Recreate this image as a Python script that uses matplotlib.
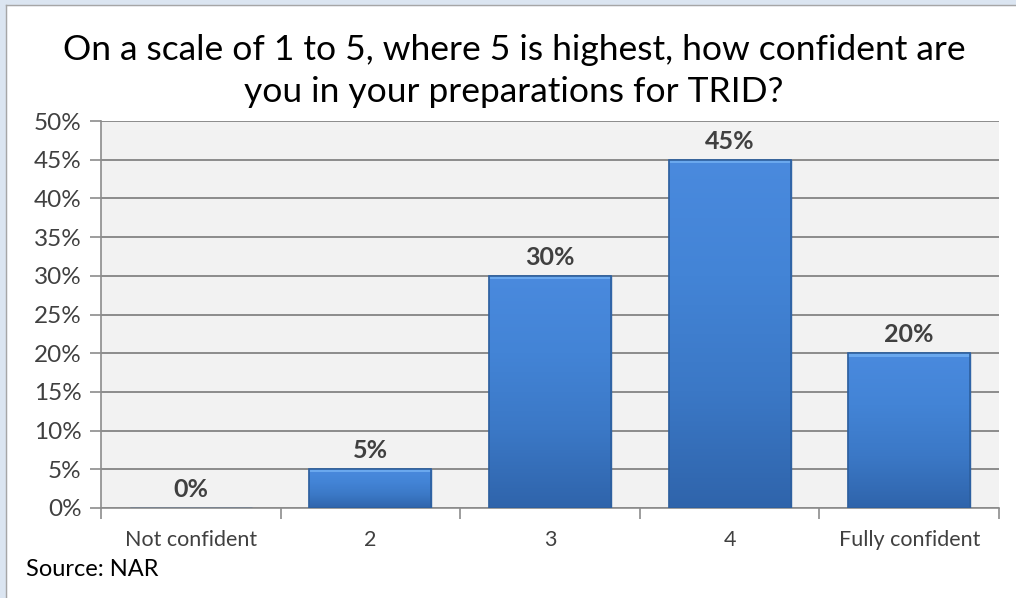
import numpy as np
import matplotlib.pyplot as plt
from matplotlib.patches import Rectangle
from matplotlib.lines import Line2D
from matplotlib.colors import LinearSegmentedColormap

categories = ["Not confident", "2", "3", "4", "Fully confident"]
shares = [0, 5, 30, 45, 20]
title = "On a scale of 1 to 5, where 5 is highest, how confident are\nyou in your preparations for TRID?"
source = "Source: NAR"

plt.rcParams['font.family'] = ['Lato', 'DejaVu Sans']

W, H = 1016, 598
fig = plt.figure(figsize=(W/100, H/100), dpi=100)
fig.patch.set_facecolor("white")

# light blue frame on top/left edge (crop of the surrounding sheet)
fig.patches.append(Rectangle((0, 0), 6/W, 1, transform=fig.transFigure, color="#dbe5f1", zorder=0))
fig.patches.append(Rectangle((0, 1-5/H), 1, 5/H, transform=fig.transFigure, color="#dbe5f1", zorder=0))
fig.lines.append(Line2D([6/W, 6/W], [0, 1-5/H], transform=fig.transFigure, color="#a6a6a6", lw=1))
fig.lines.append(Line2D([6/W, 1], [1-5/H, 1-5/H], transform=fig.transFigure, color="#a6a6a6", lw=1))

ax = fig.add_axes([101/W, 1-508/H, (999-101)/W, (508-121)/H])
ax.set_facecolor("#f2f2f2")

x = np.arange(len(categories))
bars = ax.bar(x, shares, width=0.68, color="#3e7ccc", edgecolor="#2d5f9e", linewidth=1.0, zorder=3)

# vertical gradient inside each bar
grad = np.linspace(0, 1, 256).reshape(-1, 1)
cmap = LinearSegmentedColormap.from_list("bar", ["#2f64ab", "#3b78c6", "#4384d6", "#4a8ade"])
for b in bars:
    if b.get_height() <= 0:
        continue
    x0, w, h = b.get_x(), b.get_width(), b.get_height()
    im = ax.imshow(grad, extent=[x0, x0 + w, 0, h], origin="lower", cmap=cmap,
                   aspect="auto", zorder=3.5)
    im.set_clip_path(b)
    # bevel highlight at top
    bev = min(0.45, h * 0.08)
    ax.add_patch(Rectangle((x0, h - bev), w, bev, facecolor="#6aa8ee", edgecolor="none", zorder=3.6))
    ax.add_patch(Rectangle((x0, 0), w, h, facecolor="none", edgecolor="#2d5f9e", lw=1.2, zorder=3.7))

for xi, v in zip(x, shares):
    ax.text(xi, v + 2.4, f"{v}%", ha="center", va="center", fontsize=18, fontweight="bold",
            color="#404040", zorder=5)

ax.set_xlim(-0.5, len(categories) - 0.5)
ax.set_ylim(0, 50)
ax.set_yticks(np.arange(0, 51, 5))
ax.set_yticklabels([f"{t}%" for t in range(0, 51, 5)], fontsize=17.5, color="#404040")
ax.set_xticks(x)
ax.set_xticklabels(categories, fontsize=15.5, color="#404040")
ax.set_xticks(np.arange(-0.5, len(categories)), minor=True)
ax.tick_params(axis="x", which="major", length=0, pad=16)
ax.tick_params(axis="x", which="minor", length=8, color="#8c8c8c", width=1.2, direction="out")
ax.tick_params(axis="y", length=8, color="#8c8c8c", width=1.2, direction="out", pad=6)

ax.grid(axis="y", color="#8c8c8c", linewidth=1.4, zorder=1)
ax.set_axisbelow(True)
for s in ["top", "right"]:
    ax.spines[s].set_visible(False)
ax.spines["left"].set_color("#8c8c8c")
ax.spines["bottom"].set_color("#8c8c8c")
ax.spines["left"].set_linewidth(1.2)
ax.spines["bottom"].set_linewidth(1.2)

fig.text(514/W, 1-71/H, title, ha="center", va="center", fontsize=25.5, color="black", linespacing=1.4)
fig.text(26/W, 1-569/H, source, ha="left", va="center", fontsize=17, color="black")

fig.savefig("out.png", dpi=100)
